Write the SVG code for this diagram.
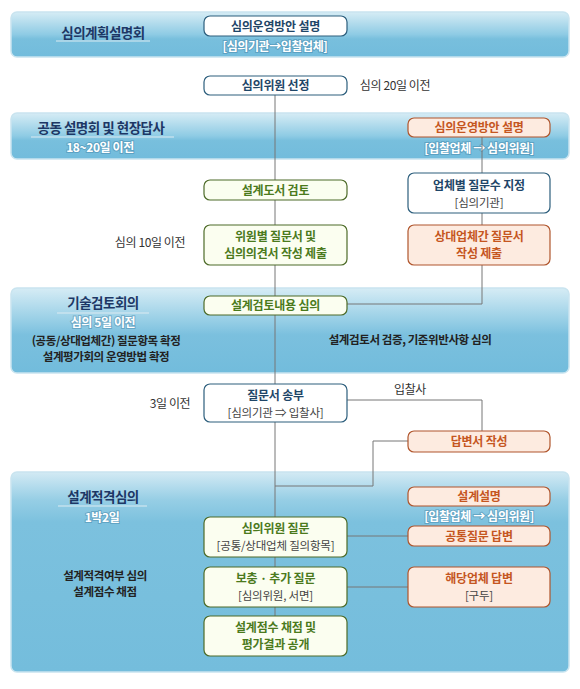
<svg xmlns="http://www.w3.org/2000/svg" width="580" height="689" viewBox="0 0 580 689">
<style>
text{font-family:"Noto Sans CJK KR","Noto Sans",sans-serif;text-anchor:middle}
.band{stroke:#c9e4ef;stroke-width:1.5}
.bt{font-size:13.5px;font-weight:bold;fill:#1d3765;letter-spacing:-0.5px}
.ul{stroke:#dcebf2;stroke-width:1}
.wt{font-size:12px;font-weight:bold;fill:#fff;stroke:#3f7fa3;stroke-opacity:0.45;stroke-width:2px;paint-order:stroke;letter-spacing:-0.4px}
.dk{font-size:11.5px;font-weight:bold;fill:#222;letter-spacing:-0.4px}
.note{font-size:12px;fill:#333;letter-spacing:-0.4px}
.g{fill:#fbfef0;stroke:#4d6b28;stroke-width:1.2}
.o{fill:#fdebe0;stroke:#b0552c;stroke-width:1.2}
.b{fill:#fff;stroke:#2c5e7c;stroke-width:1.2}
.gt{font-size:12px;font-weight:bold;fill:#4b7a1d;letter-spacing:-0.2px}
.ot{font-size:12px;font-weight:bold;fill:#c5561f;letter-spacing:-0.2px}
.nt{font-size:12px;font-weight:bold;fill:#1f4668;letter-spacing:-0.2px}
.sub{font-size:11.5px;fill:#444;letter-spacing:-0.2px}
.con{stroke:#777;stroke-width:1;fill:none}
</style>
<defs>
<linearGradient id="gs" x1="0" y1="0" x2="0" y2="1">
<stop offset="0" stop-color="#d6ecf5"/>
<stop offset="0.5" stop-color="#8ecbe4"/>
<stop offset="0.6" stop-color="#78bfdd"/>
<stop offset="1" stop-color="#72bcdc"/>
</linearGradient>
<linearGradient id="gm" x1="0" y1="0" x2="0" y2="1">
<stop offset="0" stop-color="#d6ecf5"/>
<stop offset="0.4" stop-color="#94cde5"/>
<stop offset="0.55" stop-color="#7bc0de"/>
<stop offset="1" stop-color="#72bcdc"/>
</linearGradient>
<linearGradient id="gl" x1="0" y1="0" x2="0" y2="1">
<stop offset="0" stop-color="#d3eaf4"/>
<stop offset="0.14" stop-color="#96cee5"/>
<stop offset="0.25" stop-color="#7cc1de"/>
<stop offset="1" stop-color="#74bddc"/>
</linearGradient>
</defs>

<g id="band1">
<rect class="band" x="11" y="12" width="558" height="45" rx="6" fill="url(#gs)"/>
<text class="bt" x="103" y="38">심의계획설명회</text>
<line class="ul" x1="56" y1="41" x2="150" y2="41"/>
<text class="wt" x="275" y="51">[심의기관→입찰업체]</text>
</g>
<g id="band2">
<rect class="band" x="11" y="113" width="558" height="46" rx="6" fill="url(#gs)"/>
<text class="bt" x="101" y="133">공동 설명회 및 현장답사</text>
<line class="ul" x1="31" y1="137" x2="174" y2="137"/>
<text class="wt" x="100" y="152">18~20일 이전</text>
<text class="wt" x="479" y="153">[입찰업체 → 심의위원]</text>
</g>
<g id="band3">
<rect class="band" x="11" y="288" width="558" height="85" rx="6" fill="url(#gm)"/>
<text class="bt" x="103" y="308">기술검토회의</text>
<line class="ul" x1="57" y1="313" x2="149" y2="313"/>
<text class="wt" x="103" y="327">심의 5일 이전</text>
<text class="dk" x="106" y="345">(공동/상대업체간) 질문항목 확정</text>
<text class="dk" x="106" y="361">설계평가회의 운영방법 확정</text>
<text class="dk" x="410" y="344">설계검토서 검증, 기준위반사항 심의</text>
</g>
<g id="band4">
<rect class="band" x="11" y="472" width="558" height="200" rx="6" fill="url(#gl)"/>
<text class="bt" x="103" y="502">설계적격심의</text>
<line class="ul" x1="58" y1="506" x2="147" y2="506"/>
<text class="wt" x="102" y="522">1박2일</text>
<text class="dk" x="105" y="580">설계적격여부 심의</text>
<text class="dk" x="105" y="596">설계점수 채점</text>
<text class="wt" x="479" y="521">[입찰업체 → 심의위원]</text>
</g>

<g id="connectors">
<path class="con" d="M275 95V616"/>
<path class="con" d="M482 137V173M482 213V225M482 265V304H347"/>
<path class="con" d="M347 400H482V431"/>
<path class="con" d="M408 441H373V486H275"/>
<path class="con" d="M347 536H408"/>
<path class="con" d="M347 587H408"/>
</g>

<g id="n-plan">
<rect class="b" x="204" y="16" width="143" height="20" rx="6"/>
<text class="nt" x="275.5" y="30.5">심의운영방안 설명</text>
</g>
<g id="n-select">
<rect class="b" x="204" y="76" width="143" height="19" rx="6"/>
<text class="nt" x="275.5" y="90">심의위원 선정</text>
<text class="note" x="395" y="90">심의 20일 이전</text>
</g>
<g id="n-plan2">
<rect class="o" x="408" y="118" width="142" height="19" rx="6"/>
<text class="ot" x="479" y="132">심의운영방안 설명</text>
</g>
<g id="n-count">
<rect class="b" x="408" y="173" width="142" height="40" rx="6"/>
<text class="nt" x="479" y="190">업체별 질문수 지정</text>
<text class="sub" x="479" y="207">[심의기관]</text>
</g>
<g id="n-review">
<rect class="g" x="204" y="180" width="143" height="20" rx="6"/>
<text class="gt" x="275.5" y="194.5">설계도서 검토</text>
</g>
<g id="n-submit">
<rect class="g" x="204" y="225" width="143" height="40" rx="6"/>
<text class="gt" x="275.5" y="241">위원별 질문서 및</text>
<text class="gt" x="275.5" y="258">심의의견서 작성 제출</text>
<text class="note" x="150" y="247">심의 10일 이전</text>
</g>
<g id="n-mutual">
<rect class="o" x="408" y="225" width="142" height="40" rx="6"/>
<text class="ot" x="479" y="241">상대업체간 질문서</text>
<text class="ot" x="479" y="258">작성 제출</text>
</g>
<g id="n-content">
<rect class="g" x="204" y="296" width="143" height="19" rx="6"/>
<text class="gt" x="275.5" y="310">설계검토내용 심의</text>
</g>
<g id="n-send">
<rect class="b" x="204" y="384" width="143" height="38" rx="6"/>
<text class="nt" x="275.5" y="400">질문서 송부</text>
<text class="sub" x="275.5" y="417">[심의기관 ⇒ 입찰사]</text>
<text class="note" x="170" y="408">3일 이전</text>
<text class="note" x="410" y="394">입찰사</text>
</g>
<g id="n-answer">
<rect class="o" x="408" y="431" width="142" height="21" rx="6"/>
<text class="ot" x="479" y="446">답변서 작성</text>
</g>
<g id="n-explain">
<rect class="o" x="408" y="487" width="142" height="19" rx="6"/>
<text class="ot" x="479" y="501">설계설명</text>
</g>
<g id="n-common">
<rect class="o" x="408" y="526" width="142" height="20" rx="6"/>
<text class="ot" x="479" y="540.5">공통질문 답변</text>
</g>
<g id="n-ask">
<rect class="g" x="204" y="517" width="143" height="40" rx="6"/>
<text class="gt" x="275.5" y="533">심의위원 질문</text>
<text class="sub" x="275.5" y="550">[공통/상대업체 질의항목]</text>
</g>
<g id="n-extra">
<rect class="g" x="204" y="567" width="143" height="40" rx="6"/>
<text class="gt" x="275.5" y="583">보충 · 추가 질문</text>
<text class="sub" x="275.5" y="600">[심의위원, 서면]</text>
</g>
<g id="n-reply">
<rect class="o" x="408" y="567" width="142" height="40" rx="6"/>
<text class="ot" x="479" y="583">해당업체 답변</text>
<text class="sub" x="479" y="600">[구두]</text>
</g>
<g id="n-score">
<rect class="g" x="204" y="616" width="143" height="40" rx="6"/>
<text class="gt" x="275.5" y="632">설계점수 채점 및</text>
<text class="gt" x="275.5" y="649">평가결과 공개</text>
</g>
</svg>
